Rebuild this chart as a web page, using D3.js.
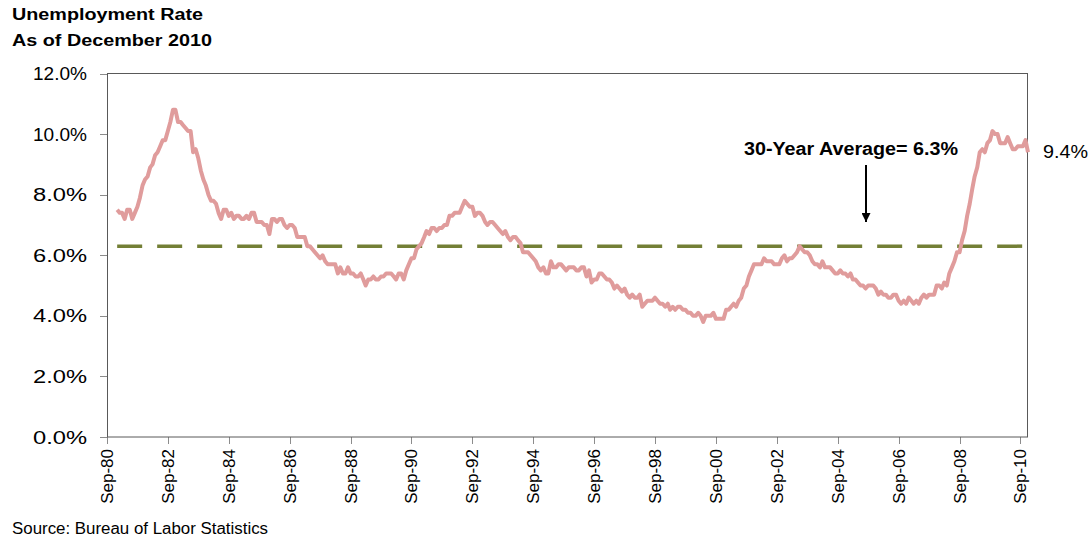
<!DOCTYPE html>
<html>
<head>
<meta charset="utf-8">
<script src="https://cdn.jsdelivr.net/npm/d3@7"></script>
<style>
  body { margin: 0; background: #fff; }
  svg { display: block; font-family: Arial, "Liberation Sans", sans-serif; }
</style>
</head>
<body>
<svg id="chart" width="1091" height="538"></svg>
<script>
// monthly unemployment rate (%), Jan 1981 .. Dec 2010
var firstYear = 1981;
var rates = [
  7.5, 7.4, 7.4, 7.2, 7.5, 7.5, 7.2, 7.4, 7.6, 7.9, 8.3, 8.5,      // 1981
  8.6, 8.9, 9.0, 9.3, 9.4, 9.6, 9.8, 9.8, 10.1, 10.4, 10.8, 10.8,  // 1982
  10.4, 10.4, 10.3, 10.2, 10.1, 10.1, 9.4, 9.5, 9.2, 8.8, 8.5, 8.3, // 1983
  8.0, 7.8, 7.8, 7.7, 7.4, 7.2, 7.5, 7.5, 7.3, 7.4, 7.2, 7.3,      // 1984
  7.3, 7.2, 7.2, 7.3, 7.2, 7.4, 7.4, 7.1, 7.1, 7.1, 7.0, 7.0,      // 1985
  6.7, 7.2, 7.2, 7.1, 7.2, 7.2, 7.0, 6.9, 7.0, 7.0, 6.9, 6.6,      // 1986
  6.6, 6.6, 6.6, 6.3, 6.3, 6.2, 6.1, 6.0, 5.9, 6.0, 5.8, 5.7,      // 1987
  5.7, 5.7, 5.7, 5.4, 5.6, 5.4, 5.4, 5.6, 5.4, 5.4, 5.3, 5.3,      // 1988
  5.4, 5.2, 5.0, 5.2, 5.2, 5.3, 5.2, 5.2, 5.3, 5.3, 5.4, 5.4,      // 1989
  5.4, 5.3, 5.2, 5.4, 5.4, 5.2, 5.5, 5.7, 5.9, 5.9, 6.2, 6.3,      // 1990
  6.4, 6.6, 6.8, 6.7, 6.9, 6.9, 6.8, 6.9, 6.9, 7.0, 7.0, 7.3,      // 1991
  7.3, 7.4, 7.4, 7.4, 7.6, 7.8, 7.7, 7.6, 7.6, 7.3, 7.4, 7.4,      // 1992
  7.3, 7.1, 7.0, 7.1, 7.1, 7.0, 6.9, 6.8, 6.7, 6.8, 6.6, 6.5,      // 1993
  6.6, 6.6, 6.5, 6.4, 6.1, 6.1, 6.1, 6.0, 5.9, 5.8, 5.6, 5.5,      // 1994
  5.6, 5.4, 5.4, 5.8, 5.6, 5.6, 5.7, 5.7, 5.6, 5.5, 5.6, 5.6,      // 1995
  5.6, 5.5, 5.5, 5.6, 5.6, 5.3, 5.5, 5.1, 5.2, 5.2, 5.4, 5.4,      // 1996
  5.3, 5.2, 5.2, 5.1, 4.9, 5.0, 4.9, 4.8, 4.9, 4.7, 4.6, 4.7,      // 1997
  4.6, 4.6, 4.7, 4.3, 4.4, 4.5, 4.5, 4.5, 4.6, 4.5, 4.4, 4.4,      // 1998
  4.3, 4.4, 4.2, 4.3, 4.2, 4.3, 4.3, 4.2, 4.2, 4.1, 4.1, 4.0,      // 1999
  4.0, 4.1, 4.0, 3.8, 4.0, 4.0, 4.0, 4.1, 3.9, 3.9, 3.9, 3.9,      // 2000
  4.2, 4.2, 4.3, 4.4, 4.3, 4.5, 4.6, 4.9, 5.0, 5.3, 5.5, 5.7,      // 2001
  5.7, 5.7, 5.7, 5.9, 5.8, 5.8, 5.8, 5.7, 5.7, 5.7, 5.9, 6.0,      // 2002
  5.8, 5.9, 5.9, 6.0, 6.1, 6.3, 6.2, 6.1, 6.1, 6.0, 5.8, 5.7,      // 2003
  5.7, 5.6, 5.8, 5.6, 5.6, 5.6, 5.5, 5.4, 5.4, 5.5, 5.4, 5.4,      // 2004
  5.3, 5.4, 5.2, 5.2, 5.1, 5.0, 5.0, 4.9, 5.0, 5.0, 5.0, 4.9,      // 2005
  4.7, 4.8, 4.7, 4.7, 4.6, 4.6, 4.7, 4.7, 4.5, 4.4, 4.5, 4.4,      // 2006
  4.6, 4.5, 4.4, 4.5, 4.4, 4.6, 4.7, 4.6, 4.7, 4.7, 4.7, 5.0,      // 2007
  5.0, 4.9, 5.1, 5.0, 5.4, 5.6, 5.8, 6.1, 6.1, 6.5, 6.8, 7.3,      // 2008
  7.7, 8.2, 8.6, 8.9, 9.4, 9.5, 9.4, 9.7, 9.8, 10.1, 10.0, 10.0,   // 2009
  9.7, 9.7, 9.7, 9.9, 9.7, 9.5, 9.5, 9.6, 9.6, 9.6, 9.8, 9.4       // 2010
];
var averageRate = 6.3;
var yTicks = [0, 2, 4, 6, 8, 10, 12];
var xTickYears = d3.range(1980, 2011, 2);   // Sep of every other year
var axisStart = new Date(1980, 8, 1);
var axisEnd = new Date(2010, 11, 1);

var data = rates.map(function (v, i) {
    return { date: new Date(firstYear, i, 1), value: v };
});

var svg = d3.select("#chart");

var x = d3.scaleTime().domain([axisStart, axisEnd]).range([107, 1028]);
var y = d3.scaleLinear().domain([0, 12]).range([437, 73.5]);

// text with the slightly stretched look of the original
function label(sel, txt, px, py, size, width, weight, anchor) {
    return sel.append("text")
        .attr("x", px).attr("y", py)
        .attr("font-size", size)
        .attr("font-weight", weight || "normal")
        .attr("text-anchor", anchor || "start")
        .attr("textLength", width)
        .attr("lengthAdjust", "spacingAndGlyphs")
        .attr("fill", "#000")
        .text(txt);
}

// titles
label(svg, "Unemployment Rate", 12, 20, 16, 191, "bold");
label(svg, "As of December 2010", 12, 46, 16, 200, "bold");
label(svg, "Source:  Bureau of Labor Statistics", 12, 534, 16, 256);

// y axis
var yAxis = svg.append("g").attr("class", "y-axis");
yAxis.selectAll("line.tick")
    .data(yTicks)
    .enter().append("line")
    .attr("class", "tick")
    .attr("x1", 100).attr("x2", 107)
    .attr("y1", function (d) { return Math.round(y(d)) + 0.5; })
    .attr("y2", function (d) { return Math.round(y(d)) + 0.5; })
    .attr("stroke", "#8c8c8c");
yAxis.selectAll("text")
    .data(yTicks)
    .enter().append("text")
    .attr("x", 87)
    .attr("y", function (d) { return y(d) + 6.5; })
    .attr("text-anchor", "end")
    .attr("font-size", 18)
    .attr("textLength", 54)
    .attr("lengthAdjust", "spacingAndGlyphs")
    .text(function (d) { return d.toFixed(1) + "%"; });

// x axis
var xFmt = d3.timeFormat("%b-%y");
var xTicks = xTickYears.map(function (yr) { return new Date(yr, 8, 1); });
var xAxis = svg.append("g").attr("class", "x-axis");
xAxis.selectAll("line")
    .data(xTicks)
    .enter().append("line")
    .attr("x1", function (d) { return Math.round(x(d)) + 0.5; })
    .attr("x2", function (d) { return Math.round(x(d)) + 0.5; })
    .attr("y1", 437).attr("y2", 444)
    .attr("stroke", "#8c8c8c");
xAxis.selectAll("text")
    .data(xTicks)
    .enter().append("text")
    .attr("transform", function (d) {
        return "translate(" + (x(d) + 6) + ",449) rotate(-90)";
    })
    .attr("text-anchor", "end")
    .attr("font-size", 17)
    .text(function (d) { return xFmt(d); });

// plot frame
svg.append("rect")
    .attr("x", 107.5).attr("y", 73.5)
    .attr("width", 920).attr("height", 363.5)
    .attr("fill", "none")
    .attr("stroke", "#595959")
    .attr("stroke-width", 1);

// 30-year average
svg.append("line")
    .attr("x1", x(data[0].date)).attr("x2", x(data[data.length - 1].date))
    .attr("y1", y(averageRate)).attr("y2", y(averageRate))
    .attr("stroke", "#737f35")
    .attr("stroke-width", 3.5)
    .attr("stroke-dasharray", "25,15");

// unemployment line
var line = d3.line()
    .x(function (d) { return x(d.date); })
    .y(function (d) { return y(d.value); });

svg.append("path")
    .datum(data)
    .attr("d", line)
    .attr("fill", "none")
    .attr("stroke", "#e09c9c")
    .attr("stroke-width", 4)
    .attr("stroke-linejoin", "round");

// annotation
label(svg, "30-Year Average= 6.3%", 744, 155, 18, 214, "bold");
svg.append("defs").append("marker")
    .attr("id", "arrow")
    .attr("viewBox", "0 0 10 10")
    .attr("refX", 10).attr("refY", 5)
    .attr("markerWidth", 4.5).attr("markerHeight", 4.5)
    .attr("orient", "auto")
    .append("path")
    .attr("d", "M0,0L10,5L0,10z")
    .attr("fill", "#000");
svg.append("line")
    .attr("x1", 866).attr("x2", 866)
    .attr("y1", 165).attr("y2", 222)
    .attr("stroke", "#000")
    .attr("stroke-width", 2)
    .attr("marker-end", "url(#arrow)");

// last value
var last = data[data.length - 1];
label(svg, last.value.toFixed(1) + "%", 1043, 158, 19, 45);
</script>
</body>
</html>
